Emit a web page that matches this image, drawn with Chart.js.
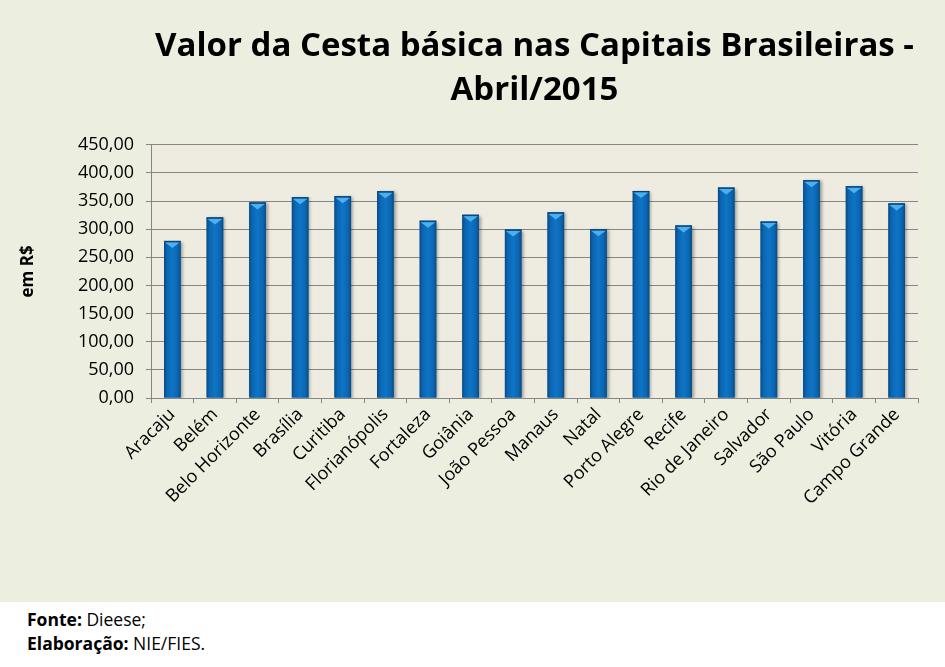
<!DOCTYPE html>
<html>
<head>
<meta charset="utf-8">
<script src="https://cdn.jsdelivr.net/npm/chart.js@4"></script>
<style>
  html, body { margin: 0; padding: 0; background: #ffffff; }
  #wrap { width: 945px; height: 602px; background: #ECEFE0; }
  #footer { font-family: 'Open Sans', sans-serif; font-size: 17.5px; color: #000; padding: 5px 0 0 27px; line-height: 24px; }
</style>
</head>
<body>
<div id="wrap"><canvas id="cestaChart" width="945" height="602"></canvas></div>
<div id="footer">
  <div><b>Fonte:</b> Dieese;</div>
  <div><b>Elaboração:</b> NIE/FIES.</div>
</div>
<script>
const capitais = ['Aracaju', 'Belém', 'Belo Horizonte', 'Brasília', 'Curitiba', 'Florianópolis', 'Fortaleza', 'Goiânia', 'João Pessoa', 'Manaus', 'Natal', 'Porto Alegre', 'Recife', 'Rio de Janeiro', 'Salvador', 'São Paulo', 'Vitória', 'Campo Grande']
const valores = [279.2, 320.9, 347.5, 356.6, 358.5, 367.2, 315.0, 325.6, 299.4, 329.8, 299.8, 367.9, 306.5, 373.9, 313.5, 386.9, 376.1, 345.7]
const tituloLinhas = ['Valor da Cesta básica nas Capitais Brasileiras -', 'Abril/2015']

window.addEventListener('load', function () {
    const ctx = document.getElementById('cestaChart').getContext('2d')

    // plot background + 3D-ish bar shading
    const barStyle = {
        id: 'barStyle',
        beforeDraw(chart) {
            const a = chart.chartArea
            const c = chart.ctx
            c.save()
            c.fillStyle = '#EEECE1'
            c.fillRect(a.left, a.top, a.right - a.left, a.bottom - a.top)
            c.restore()
        },
        beforeDatasetsDraw(chart) {
            const c = chart.ctx
            c.save()
            c.shadowColor = 'rgba(0,0,0,0.35)'
            c.shadowOffsetX = 2
            c.shadowOffsetY = 1
            c.shadowBlur = 3
        },
        afterDatasetsDraw(chart) {
            const c = chart.ctx
            c.restore()
            c.save()
            chart.getDatasetMeta(0).data.forEach(bar => {
                const p = bar.getProps(['x', 'y', 'base', 'width'], true)
                const l = p.x - p.width / 2, r = p.x + p.width / 2
                const g = c.createLinearGradient(l, 0, r, 0)
                g.addColorStop(0, '#0A4A82')
                g.addColorStop(0.18, '#0B66B1')
                g.addColorStop(0.5, '#0F74C6')
                g.addColorStop(0.82, '#0B66B1')
                g.addColorStop(1, '#0A4A82')
                c.fillStyle = g
                c.fillRect(l, p.y, p.width, p.base - p.y)
                // top bevel
                c.fillStyle = '#4DB0EC'
                c.beginPath()
                c.moveTo(l + 1, p.y + 1.5)
                c.lineTo(r - 1, p.y + 1.5)
                c.lineTo(p.x, p.y + 7)
                c.closePath()
                c.fill()
                c.strokeStyle = '#0A3F6E'
                c.lineWidth = 1
                c.beginPath()
                c.moveTo(l, p.y + 0.5)
                c.lineTo(r, p.y + 0.5)
                c.stroke()
            })
            c.restore()
        }
    }

    const config = {
        type: 'bar',
        data: {
            labels: capitais,
            datasets: [{
                data: valores,
                backgroundColor: '#0B67B2',
                categoryPercentage: 1,
                barPercentage: 0.39
            }]
        },
        options: {
            responsive: false,
            animation: false,
            layout: { padding: { left: 0, right: 27, top: 0, bottom: 0 } },
            plugins: {
                legend: { display: false },
                tooltip: { enabled: false },
                title: {
                    display: true,
                    fullSize: false,
                    text: tituloLinhas,
                    color: '#000',
                    font: { family: 'Open Sans', size: 33, weight: 'bold', lineHeight: 1.33 },
                    padding: { top: 25, bottom: 32 }
                }
            },
            scales: {
                x: {
                    afterFit(scale) { scale.height = 204 },
                    grid: { drawOnChartArea: false, drawTicks: true, tickLength: 5, color: '#868686', offset: true },
                    border: { color: '#868686' },
                    ticks: {
                        autoSkip: false, maxRotation: 45, minRotation: 45, padding: 1,
                        color: '#000', font: { family: 'Open Sans', size: 18 }
                    }
                },
                y: {
                    min: 0, max: 450,
                    afterFit(scale) { scale.width = 151 },
                    grid: { color: '#868686', tickLength: 5 },
                    border: { color: '#868686' },
                    ticks: {
                        stepSize: 50, padding: 12,
                        color: '#000', font: { family: 'Open Sans', size: 18 },
                        callback: v => v.toFixed(2).replace('.', ',')
                    },
                    title: {
                        display: true, text: 'em R$', color: '#000',
                        font: { family: 'Open Sans', size: 17, weight: 'bold' },
                        padding: { top: 18, bottom: 0 }
                    }
                }
            }
        },
        plugins: [barStyle]
    }

    new Chart(ctx, config)
})
</script>
</body>
</html>
